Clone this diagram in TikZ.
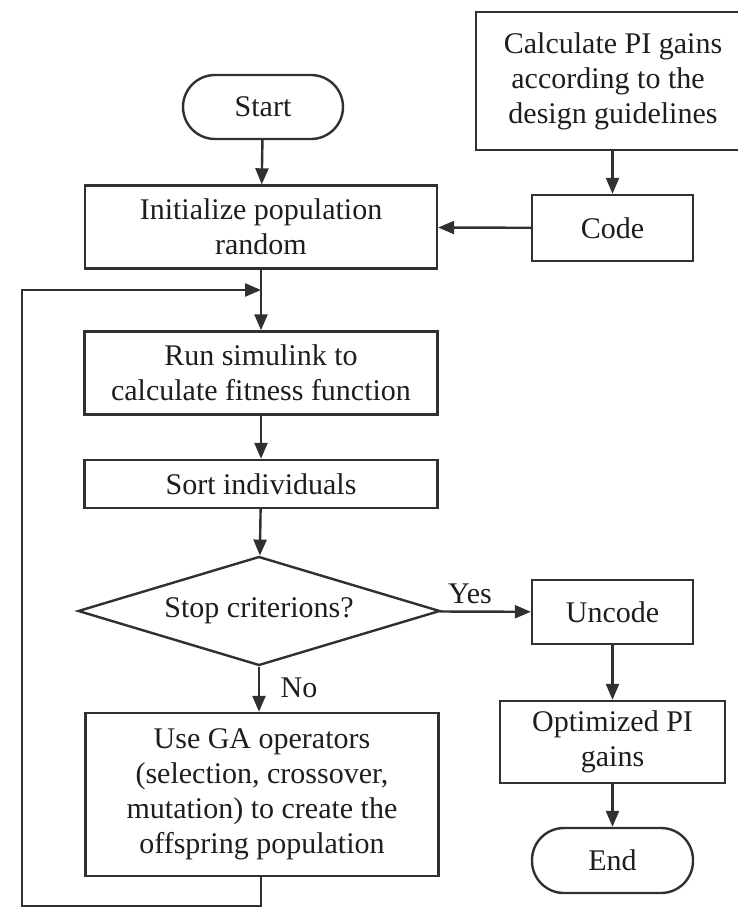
\documentclass[tikz,border=0pt]{standalone}
\usepackage{fontspec}
\setmainfont{Liberation Serif}
\usetikzlibrary{shapes.geometric,arrows.meta}
\definecolor{lc}{HTML}{303030}
\definecolor{tc}{HTML}{1E1E1E}
\begin{document}
\begin{tikzpicture}[x=1pt,y=-1pt,
  txt/.style={text=tc, font=\fontsize{30}{35}\selectfont, align=center},
  box/.style={txt, draw=lc, line width=2.4pt, fill=white, inner sep=0pt},
  term/.style={box, rounded corners=32pt},
  dec/.style={txt, draw=lc, line width=2.4pt, shape=diamond, aspect=3.3, inner sep=0pt},
  arr/.style={draw=lc, line width=2.4pt, -{Triangle[length=16pt,width=13pt]}},
  ln/.style={draw=lc, line width=2.4pt}
]
\useasboundingbox (0,0) rectangle (738,908);
\clip (0,0) rectangle (738,908);
\fill[white] (0,0) rectangle (738,908);

\node[box, minimum width=274pt, minimum height=138pt] (calc) at (613,81) {\hspace*{-10pt}Calculate PI gains\hspace*{-10pt}\\\hspace*{-10pt}according to the\hspace*{-10pt}\\\hspace*{-10pt}design guidelines\hspace*{-10pt}};
\node[term, minimum width=160pt, minimum height=64pt] (start) at (263,107) {Start};
\node[box, minimum width=352pt, minimum height=83pt] (init) at (261,227) {Initialize population\\random};
\node[box, minimum width=161pt, minimum height=66pt] (code) at (612.5,228) {Code};
\node[box, minimum width=353pt, minimum height=83pt] (run) at (261,373) {Run simulink to\\calculate fitness function};
\node[box, minimum width=353pt, minimum height=48pt] (sort) at (261,484) {Sort individuals};
\node[dec, minimum width=362pt, minimum height=109pt] (stop) at (259,611) {Stop criterions?};
\node[box, minimum width=161pt, minimum height=64pt] (uncode) at (612.5,612) {Uncode};
\node[box, minimum width=353pt, minimum height=163pt] (ga) at (262,794.5) {Use GA operators\\(selection, crossover,\\mutation) to create the\\offspring population};
\node[box, minimum width=225pt, minimum height=82pt] (opt) at (612.5,742) {Optimized PI\\gains};
\node[term, minimum width=161pt, minimum height=65pt] (end) at (612.5,860.5) {End};

\node[txt] (yes) at (470,594) {Yes};
\node[txt] (no) at (299,688) {No};

\coordinate (l0) at (261,906);
\coordinate (l1) at (22,906);
\coordinate (l2) at (22,290);
\coordinate (l3) at (261,290);

\draw[arr] (start) -- (init);
\draw[ln] (init.south) -- (l3);
\draw[arr] (l3) -- (run.north);
\draw[arr] (run) -- (sort);
\draw[arr] (sort) -- (stop);
\draw[arr] (stop.south) -- (stop.south |- ga.north);
\draw[arr] (calc.south -| code.north) -- (code.north);
\draw[arr] (code) -- (init);
\draw[arr] (stop) -- (uncode);
\draw[arr] (uncode) -- (opt);
\draw[arr] (opt) -- (end);
\draw[arr] (ga.south -| l0) -- (l0) -- (l1) -- (l2) -- (l3);
\end{tikzpicture}
\end{document}
